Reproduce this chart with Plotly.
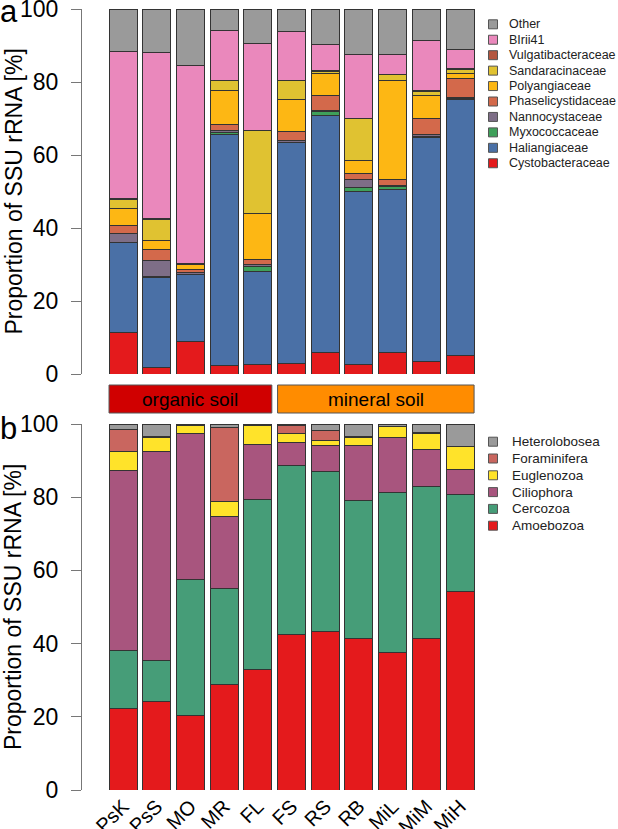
import plotly.graph_objects as go

samples = ['PsK', 'PsS', 'MO', 'MR', 'FL', 'FS', 'RS', 'RB', 'MiL', 'MiM', 'MiH']

# panel a: Myxococcales families, bottom of the stack first
cystobacteraceae = [11.4, 1.7, 9.0, 2.4, 2.7, 2.9, 5.9, 2.5, 5.9, 3.4, 5.2]
haliangiaceae = [24.6, 24.8, 18.2, 63.3, 25.5, 60.5, 65.0, 47.4, 44.7, 61.5, 70.1]
myxococcaceae = [0.1, 0.1, 0.1, 0.6, 1.2, 0.1, 1.0, 1.1, 0.9, 0.1, 0.1]
nannocystaceae = [2.4, 4.4, 0.5, 0.4, 0.6, 0.4, 0.3, 2.2, 0.1, 0.5, 0.4]
phaselicystidaceae = [2.3, 3.0, 0.9, 1.7, 1.3, 2.6, 4.1, 1.8, 1.8, 4.6, 5.2]
polyangiaceae = [4.6, 2.7, 1.4, 9.3, 12.7, 8.8, 5.9, 3.5, 27.1, 6.3, 1.2]
sandaracinaceae = [2.5, 5.7, 0.2, 2.6, 22.6, 5.1, 0.8, 11.4, 1.5, 1.1, 1.3]
vulgatibacteraceae = [0.1, 0.1, 0.1, 0.1, 0.1, 0.1, 0.2, 0.1, 0.1, 0.1, 0.1]
blrii41 = [40.3, 45.6, 54.2, 13.7, 23.9, 13.3, 7.1, 17.4, 5.3, 13.7, 5.4]
other_a = [11.7, 11.9, 15.4, 5.9, 9.4, 6.2, 9.7, 12.6, 12.6, 8.7, 11.0]

# panel b: protist groups, bottom of the stack first
amoebozoa = [22.3, 24.2, 20.3, 28.8, 32.8, 42.4, 43.4, 41.5, 37.5, 41.3, 54.3]
cercozoa = [15.8, 11.1, 37.3, 26.3, 46.7, 46.3, 43.6, 37.5, 43.8, 41.6, 26.4]
ciliophora = [49.3, 57.3, 39.9, 19.5, 15.0, 6.3, 7.2, 15.2, 15.0, 10.1, 7.0]
euglenozoa = [5.2, 3.7, 2.0, 4.2, 5.0, 2.5, 1.3, 2.1, 2.9, 4.5, 6.1]
foraminifera = [5.8, 0.2, 0.2, 20.3, 0.1, 2.1, 2.6, 0.2, 0.1, 0.1, 0.1]
heterolobosea = [1.6, 3.5, 0.3, 0.9, 0.4, 0.4, 1.9, 3.5, 0.7, 2.4, 6.1]

groups = ['organic soil', 'mineral soil']
group_sizes = [5, 6]

top_series = [
    ('Cystobacteraceae', cystobacteraceae, '#E41A1C'),
    ('Haliangiaceae', haliangiaceae, '#4A70A6'),
    ('Myxococcaceae', myxococcaceae, '#3FA05A'),
    ('Nannocystaceae', nannocystaceae, '#7E6E87'),
    ('Phaselicystidaceae', phaselicystidaceae, '#D3694B'),
    ('Polyangiaceae', polyangiaceae, '#FDB714'),
    ('Sandaracinaceae', sandaracinaceae, '#E0C231'),
    ('Vulgatibacteraceae', vulgatibacteraceae, '#B4563F'),
    ('BIrii41', blrii41, '#EA88BC'),
    ('Other', other_a, '#9A9A9A'),
]

bottom_series = [
    ('Amoebozoa', amoebozoa, '#E41A1C'),
    ('Cercozoa', cercozoa, '#469D78'),
    ('Ciliophora', ciliophora, '#A8557E'),
    ('Euglenozoa', euglenozoa, '#FFE32A'),
    ('Foraminifera', foraminifera, '#C9665F'),
    ('Heterolobosea', heterolobosea, '#9A9A9A'),
]

W, H = 618, 829
font_family = 'Liberation Sans, Arial, sans-serif'


def px_x(px):
    return px / W


def px_y(py):
    return 1 - py / H


fig = go.Figure()

for name, values, color in top_series:
    fig.add_trace(go.Bar(x=samples, y=values, name=name, xaxis='x', yaxis='y',
                         marker=dict(color=color, line=dict(color='#333333', width=1)),
                         showlegend=False))

for name, values, color in bottom_series:
    fig.add_trace(go.Bar(x=samples, y=values, name=name, xaxis='x2', yaxis='y2',
                         marker=dict(color=color, line=dict(color='#333333', width=1)),
                         showlegend=False))

yaxis_style = dict(range=[0, 100], tickvals=[0, 20, 40, 60, 80, 100],
                   showline=True, linecolor='#777777', linewidth=1,
                   ticks='outside', ticklen=10, tickcolor='#777777',
                   tickfont=dict(size=23, color='black'),
                   ticklabeloverflow='allow', ticklabelstandoff=8,
                   showgrid=False, zeroline=False, automargin=False)
xaxis_domain = [px_x(82), px_x(482)]
xaxis_range = [-1.217, 10.65]

fig.update_layout(
    width=W, height=H,
    margin=dict(l=0, r=0, t=0, b=0),
    plot_bgcolor='white', paper_bgcolor='white',
    font=dict(family=font_family, color='black'),
    barmode='stack', bargap=0.169,
    showlegend=False,
    xaxis=dict(domain=xaxis_domain, range=xaxis_range, anchor='y',
               showticklabels=False, ticks='', showline=False, showgrid=False,
               automargin=False),
    yaxis=dict(domain=[px_y(374), px_y(9)], anchor='x', **yaxis_style),
    xaxis2=dict(domain=xaxis_domain, range=xaxis_range, anchor='y2',
                ticks='', showline=False, showgrid=False, automargin=False,
                ticklabeloverflow='allow',
                tickangle=-45, tickfont=dict(size=20, color='black')),
    yaxis2=dict(domain=[px_y(790), px_y(424)], anchor='x2', **yaxis_style),
)

# axis titles and panel letters
for yc, letter, ly in [(191.5, 'a', -8), (607, 'b', 409)]:
    fig.add_annotation(text='Proportion of SSU rRNA [%]', textangle=-90,
                       x=px_x(13), y=px_y(yc), xref='paper', yref='paper',
                       xanchor='center', yanchor='middle', showarrow=False,
                       font=dict(size=23))
    fig.add_annotation(text=letter, x=px_x(-2), y=px_y(ly), xref='paper', yref='paper',
                       xanchor='left', yanchor='top', showarrow=False,
                       font=dict(size=31))

# soil type boxes between the panels
start = 0
for label, size, color in zip(groups, group_sizes, ['#D00000', '#FF8C00']):
    fig.add_shape(type='rect', xref='x', yref='paper',
                  x0=start - 0.415, x1=start + size - 1 + 0.415,
                  y0=px_y(413), y1=px_y(385),
                  fillcolor=color, line=dict(color='#555555', width=1))
    fig.add_annotation(text=label, xref='x', yref='paper',
                       x=start + (size - 1) / 2, y=px_y(399),
                       xanchor='center', yanchor='middle', showarrow=False,
                       font=dict(size=19))
    start += size

# legends, top entry first as in the original
def add_legend(series, y_first, step, text_x, size):
    for i, (name, values, color) in enumerate(reversed(series)):
        yc = y_first + i * step
        fig.add_shape(type='rect', xref='paper', yref='paper',
                      x0=px_x(488.5), x1=px_x(497.5),
                      y0=px_y(yc + 4.5), y1=px_y(yc - 4.5),
                      fillcolor=color, line=dict(color='#555555', width=1))
        fig.add_annotation(text=name, xref='paper', yref='paper',
                           x=px_x(text_x), y=px_y(yc),
                           xanchor='left', yanchor='middle', showarrow=False,
                           font=dict(size=size, color='#222222'))


add_legend(top_series, 24.3, 15.44, 507, 12.5)
add_legend(bottom_series, 441.7, 16.8, 510, 13.5)

# the page body has a default 8px margin; drop it so the figure fills the window
fig.write_html("out.html", config={'displayModeBar': False},
               post_script="document.body.style.margin = '0';")
